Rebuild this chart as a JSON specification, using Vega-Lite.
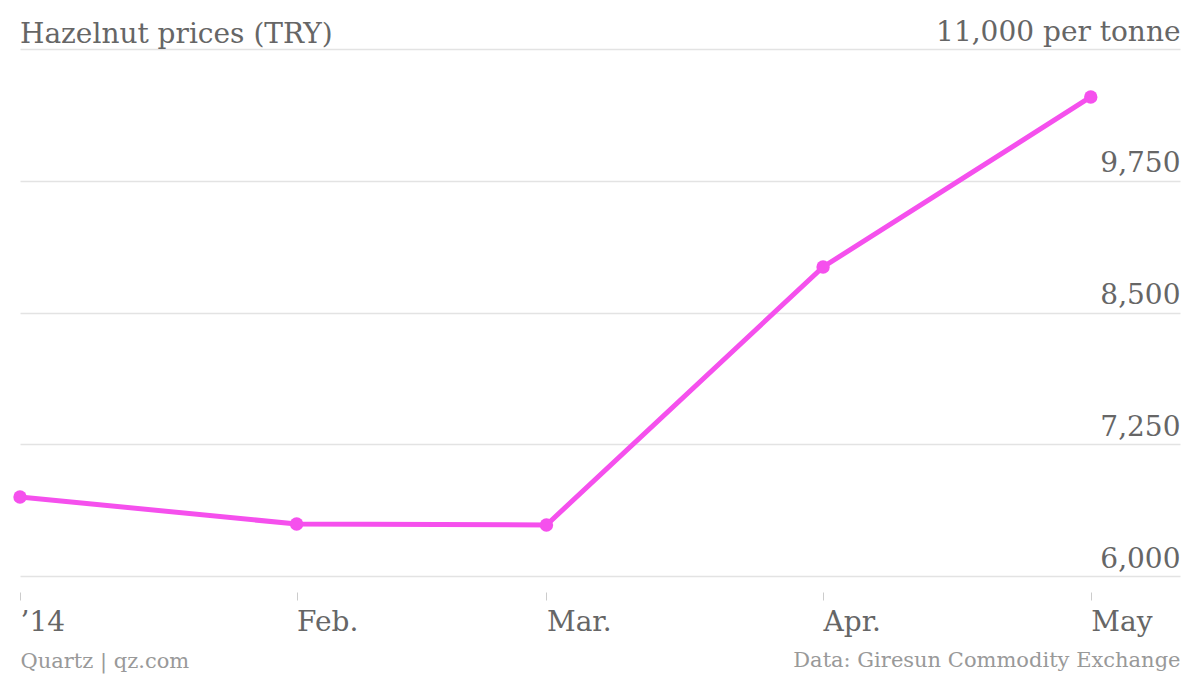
{
  "$schema": "https://vega.github.io/schema/vega-lite/v6.json",
  "width": 1160,
  "height": 527,
  "autosize": {"type": "none"},
  "padding": {"left": 20, "top": 49, "right": 20, "bottom": 100},
  "background": "white",
  "config": {
    "view": {"stroke": null},
    "font": "DejaVu Serif"
  },
  "title": {
    "text": "Hazelnut prices (TRY)",
    "anchor": "start",
    "frame": "group",
    "orient": "top",
    "baseline": "alphabetic",
    "offset": 10,
    "dy": 63,
    "fontSize": 28,
    "fontWeight": "normal",
    "color": "#666666",
    "font": "DejaVu Serif"
  },
  "data": {
    "values": [
      {"date": "2014-01-01", "price": 6750},
      {"date": "2014-02-01", "price": 6493},
      {"date": "2014-03-01", "price": 6484},
      {"date": "2014-04-01", "price": 8932},
      {"date": "2014-05-01", "price": 10545}
    ]
  },
  "layer": [
    {
      "mark": {"type": "line", "color": "#f550ed", "strokeWidth": 5},
      "encoding": {
        "x": {
          "field": "date",
          "type": "temporal",
          "scale": {"type": "utc", "domain": [{"year": 2014, "month": 1, "date": 1, "utc": true}, {"year": 2014, "month": 5, "date": 11, "utc": true}]},
          "axis": {
            "values": [
              {"year": 2014, "month": 1, "date": 1, "utc": true},
              {"year": 2014, "month": 2, "date": 1, "utc": true},
              {"year": 2014, "month": 3, "date": 1, "utc": true},
              {"year": 2014, "month": 4, "date": 1, "utc": true},
              {"year": 2014, "month": 5, "date": 1, "utc": true}
            ],
            "labelExpr": "['\u201914','Feb.','Mar.','Apr.','May'][utcmonth(datum.value)]",
            "domain": false,
            "grid": false,
            "offset": 16,
            "ticks": true,
            "tickSize": 8,
            "tickColor": "#cccccc",
            "tickWidth": 1,
            "labelAlign": "left",
            "labelBaseline": "top",
            "labelPadding": 8,
            "labelFontSize": 28,
            "labelColor": "#666666",
            "labelFont": "DejaVu Serif",
            "labelOverlap": false,
            "labelBound": false,
            "labelFlush": false,
            "title": "Quartz | qz.com",
            "titleAnchor": "start",
            "titleAlign": "left",
            "titleBaseline": "alphabetic",
            "titleFontSize": 21,
            "titleFontWeight": "normal",
            "titleColor": "#999999",
            "titleFont": "DejaVu Serif",
            "titleX": 0,
            "titleY": 75
          }
        },
        "y": {
          "field": "price",
          "type": "quantitative",
          "scale": {"domain": [6000, 11000], "nice": false, "zero": false},
          "axis": {
            "orient": "right",
            "values": [6000, 7250, 8500, 9750, 11000],
            "labelExpr": "datum.value == 11000 ? '11,000 per tonne' : format(datum.value, ',')",
            "domain": false,
            "ticks": false,
            "grid": true,
            "gridColor": "#e3e3e3",
            "gridWidth": 1.5,
            "labelAlign": "right",
            "labelBaseline": "alphabetic",
            "labelPadding": 0,
            "labelOffset": -9,
            "labelFontSize": 28,
            "labelLimit": 500,
            "labelColor": "#666666",
            "labelFont": "DejaVu Serif",
            "labelBound": false,
            "labelFlush": false,
            "labelOverlap": false,
            "title": "Data: Giresun Commodity Exchange",
            "titleAngle": 0,
            "titleAlign": "right",
            "titleBaseline": "alphabetic",
            "titleFontSize": 21,
            "titleFontWeight": "normal",
            "titleColor": "#999999",
            "titleFont": "DejaVu Serif",
            "titleX": 0,
            "titleY": 617
          }
        }
      }
    },
    {
      "mark": {"type": "point", "filled": true, "color": "#f550ed", "size": 180, "opacity": 1},
      "encoding": {
        "x": {"field": "date", "type": "temporal"},
        "y": {"field": "price", "type": "quantitative"}
      }
    }
  ]
}
